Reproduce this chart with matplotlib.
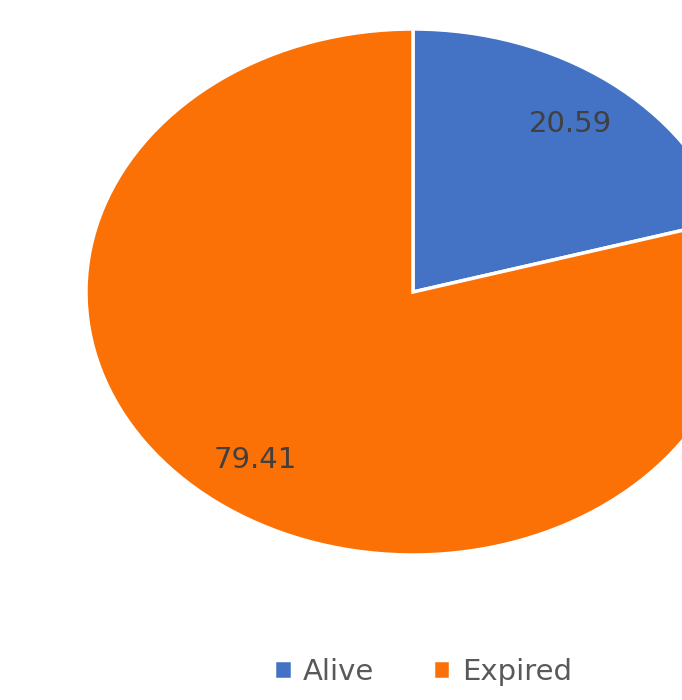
import matplotlib.pyplot as plt

# Data
labels = ["Alive", "Expired"]
values = [20.59, 79.41]
colors = ["#4472C4", "#FB7106"]

W, H = 682, 700
fig = plt.figure(figsize=(W / 100, H / 100), dpi=100)
ax = fig.add_axes([0, 0, 1, 1])

wedges, texts = ax.pie(
    values,
    colors=colors,
    startangle=90,
    counterclock=False,
    labels=[f"{v:.2f}" for v in values],
    labeldistance=0.8,
    wedgeprops=dict(edgecolor="white", linewidth=2.5),
    textprops=dict(fontsize=21, color="#404040"),
)
for t in texts:
    t.set_ha("center")
    t.set_va("center")

# Pie is stretched into an ellipse and clipped at the right edge
cx, cy, rx, ry = 413, 292, 327, 263
ax.set_aspect("auto")
ax.set_xlim(-cx / rx, (W - cx) / rx)
ax.set_ylim(-(H - cy) / ry, cy / ry)
ax.axis("off")

fig.legend(
    wedges, labels,
    loc="center",
    bbox_to_anchor=(423 / W, 1 - 672 / H),
    ncol=2,
    frameon=False,
    fontsize=21,
    labelcolor="#595959",
    handlelength=0.6,
    handleheight=0.6,
    handletextpad=0.4,
    columnspacing=2.0,
)

fig.savefig("out.png", dpi=100)
